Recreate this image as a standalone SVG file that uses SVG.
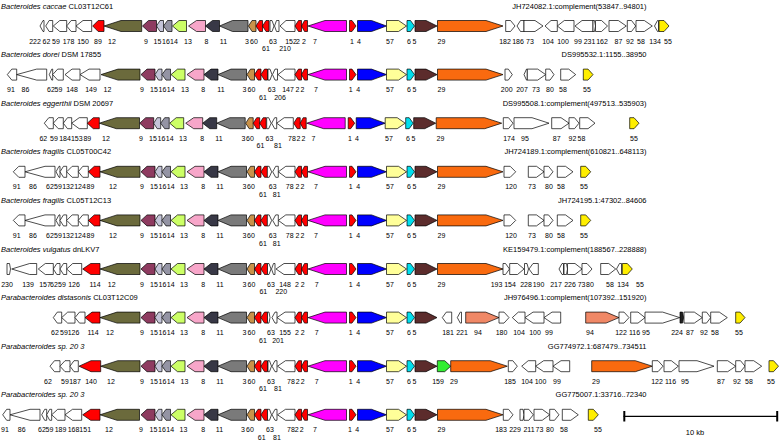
<svg xmlns="http://www.w3.org/2000/svg" width="779" height="442" viewBox="0 0 779 442">
<style>
.a path{stroke:#000;stroke-width:0.7;stroke-linejoin:miter}
text{font-family:"Liberation Sans",Arial,Helvetica,sans-serif;fill:#000}
.l text{font-size:7px;text-anchor:middle}
.t{font-size:7.5px}
.acc{font-size:7.5px;text-anchor:end}
.w{fill:#fff}.ol{fill:#6b6a3c}.mr{fill:#8e3b60}.lv{fill:#c4c4d8}.gy{fill:#9494a4}.gr{fill:#ccff66}.pk{fill:#f7a6c9}.dk{fill:#383846}.g11{fill:#7a7a7a}.tn{fill:#c9924a}.rd{fill:#ff0000}.mg{fill:#ff00ff}.bl{fill:#0000ff}.ly{fill:#ffff99}.cy{fill:#00dfee}.br{fill:#5c2c2c}.or{fill:#f96a0f}.ye{fill:#ffee00}.sa{fill:#f08866}.gn{fill:#33ee33}.bk{fill:#222}
</style>

<g id="row1" transform="translate(0 26)">
<text class="t" x="1" y="-17.5"><tspan font-style="italic">Bacteroides caccae</tspan> CL03T12C61</text>
<text class="acc" x="646.5" y="-17.5">JH724082.1:complement(53847..94801)</text>
<g class="a">
<path class="w" d="M44 -5.5H43L40 0L43 5.5H44Z"/>
<path class="w" d="M52.7 -5.5H49.2L45.7 0L49.2 5.5H52.7Z"/>
<path class="w" d="M66.7 -5.5H59.8L53.3 0L59.8 5.5H66.7Z"/>
<path class="w" d="M76 -5.5H71.2L66.7 0L71.2 5.5H76Z"/>
<path class="w" d="M91.7 -5.5H83L76 0L83 5.5H91.7Z"/>
<path class="rd" d="M104 -5.5H98.2L92.7 0L98.2 5.5H104Z"/>
<path class="ol" d="M141.7 -5.5H121L104 0L121 5.5H141.7Z"/>
<g transform="translate(1.5 0)">
<path class="mr" d="M155 -5.5H147L141 0L147 5.5H155Z"/>
<path class="lv" d="M162 -5.5H158.5L155 0L158.5 5.5H162Z"/>
<path class="gy" d="M170.5 -5.5H166L162 0L166 5.5H170.5Z"/>
<path class="gr" d="M185 -5.5H177.5L171 0L177.5 5.5H185Z"/>
<path class="pk" d="M204 -5.5H195L187 0L195 5.5H204Z"/>
<path class="dk" d="M218 -5.5H211L204 0L211 5.5H218Z"/>
<path class="g11" d="M246.5 -5.5H231L218 0L231 5.5H246.5Z"/>
<path class="tn" d="M254.5 -5.5H250.5L247 0L250.5 5.5H254.5Z"/>
<path class="rd" d="M261 -5.5H258L254.5 0L258 5.5H261Z"/>
<path class="rd" d="M267.5 -5.5H264.5L261 0L264.5 5.5H267.5Z"/>
</g>
<path class="w" d="M270 -5.5H272L274 0L272 5.5H270Z"/>
<path class="w" d="M279 -5.5H276.5L274.5 0L276.5 5.5H279Z"/>
<path class="w" d="M295 -5.5H286L280 0L286 5.5H295Z"/>
<path class="rd" d="M301.5 -5.5H298.5L295 0L298.5 5.5H301.5Z"/>
<path class="rd" d="M307.5 -5.5H304.5L301.5 0L304.5 5.5H307.5Z"/>
<path class="mg" d="M346.5 -5.5H325L308 0L325 5.5H346.5Z"/>
<path class="rd" d="M349.5 -5.5H352L356 0L352 5.5H349.5Z"/>
<path class="bl" d="M357.5 -5.5H371.5L386.5 0L371.5 5.5H357.5Z"/>
<path class="ly" d="M386.5 -5.5H398.5L406.5 0L398.5 5.5H386.5Z"/>
<path class="cy" d="M407 -5.5H410.5L414.5 0L410.5 5.5H407Z"/>
<path class="br" d="M415 -5.5H426L437 0L426 5.5H415Z"/>
<path class="or" d="M437.5 -5.5H486L503 0L486 5.5H437.5Z"/>
<path class="w" d="M505.7 -5.5H510.5L515 0L510.5 5.5H505.7Z"/>
<path class="w" d="M524 -5.5H520.5L517 0L520.5 5.5H524Z"/>
<path class="w" d="M524 -5.5H535L543 0L535 5.5H524Z"/>
<path class="w" d="M557.3 -5.5H551L545 0L551 5.5H557.3Z"/>
<path class="w" d="M574 -5.5H564.3L557.3 0L564.3 5.5H574Z"/>
<path class="w" d="M593 -5.5H582L575 0L582 5.5H593Z"/>
<path class="w" d="M593 -5.5H594.5L595.5 0L594.5 5.5H593Z"/>
<path class="w" d="M595.5 -5.5H601.5L607.5 0L601.5 5.5H595.5Z"/>
<path class="w" d="M609 -5.5H618.3L626.3 0L618.3 5.5H609Z"/>
<path class="w" d="M627.3 -5.5H631.5L635.7 0L631.5 5.5H627.3Z"/>
<path class="w" d="M636 -5.5H644.3L652.3 0L644.3 5.5H636Z"/>
<path class="w" d="M658.5 -5.5H657.5L654.5 0L657.5 5.5H658.5Z"/>
<path class="ye" d="M659 -5.5H664L669 0L664 5.5H659Z"/>
</g>
<g class="l">
<text x="35" y="17.5">222</text><text x="46.5" y="17.5">62</text><text x="56" y="17.5">59</text><text x="68.5" y="17.5">178</text><text x="83" y="17.5">150</text><text x="98" y="17.5">89</text><text x="112" y="17.5">12</text>
<text x="146" y="17.5">9</text><text x="157.5" y="17.5">15</text><text x="166" y="17.5">16</text><text x="174" y="17.5">14</text><text x="188" y="17.5">13</text><text x="206.5" y="17.5">8</text><text x="223.5" y="17.5">11</text><text x="247" y="17.5">3</text><text x="254" y="17.5">60</text><text x="266" y="25.3">61</text>
<text x="273" y="17.5">63</text><text x="285" y="25.3">210</text><text x="291" y="17.5">152</text><text x="298" y="17.5">2</text><text x="304" y="17.5">2</text><text x="315" y="17.5">7</text><text x="352" y="17.5">1</text><text x="359" y="17.5">4</text>
<text x="390" y="17.5">57</text><text x="409" y="17.5">6</text><text x="414.5" y="17.5">5</text><text x="441.5" y="17.5">29</text>
<text x="505" y="17.5">182</text><text x="518" y="17.5">186</text><text x="530" y="17.5">73</text><text x="548" y="17.5">104</text><text x="563" y="17.5">100</text><text x="578" y="17.5">99</text><text x="589.5" y="17.5">231</text><text x="602" y="17.5">162</text><text x="618.5" y="17.5">87</text><text x="630" y="17.5">92</text><text x="641" y="17.5">58</text><text x="655" y="17.5">134</text><text x="668" y="17.5">55</text>
</g>
</g>

<g id="row2" transform="translate(0 74.6)">
<text class="t" x="1" y="-17.5"><tspan font-style="italic">Bacteroides dorei</tspan> DSM 17855</text>
<text class="acc" x="646.5" y="-17.5">DS995532.1:1155..38950</text>
<g class="a">
<path class="w" d="M16.7 -5.5H11.8L7.3 0L11.8 5.5H16.7Z"/>
<path class="w" d="M46.7 -5.5H36.7L16.7 0L36.7 5.5H46.7Z"/>
<path class="w" d="M52.7 -5.5H51.8L49.3 0L51.8 5.5H52.7Z"/>
<path class="w" d="M63.3 -5.5H57.7L52.7 0L57.7 5.5H63.3Z"/>
<path class="w" d="M80 -5.5H72L65 0L72 5.5H80Z"/>
<path class="w" d="M100 -5.5H89L80 0L89 5.5H100Z"/>
<path class="ol" d="M140 -5.5H118L101 0L118 5.5H140Z"/>
<path class="mr" d="M155 -5.5H147L141 0L147 5.5H155Z"/>
<path class="lv" d="M162 -5.5H158.5L155 0L158.5 5.5H162Z"/>
<path class="gy" d="M170.5 -5.5H166L162 0L166 5.5H170.5Z"/>
<path class="gr" d="M185 -5.5H177.5L171 0L177.5 5.5H185Z"/>
<path class="pk" d="M204 -5.5H195L187 0L195 5.5H204Z"/>
<path class="dk" d="M218 -5.5H211L204 0L211 5.5H218Z"/>
<path class="g11" d="M246.5 -5.5H231L218 0L231 5.5H246.5Z"/>
<path class="tn" d="M254.5 -5.5H250.5L247 0L250.5 5.5H254.5Z"/>
<path class="rd" d="M261 -5.5H258L254.5 0L258 5.5H261Z"/>
<path class="rd" d="M267.5 -5.5H264.5L261 0L264.5 5.5H267.5Z"/>
<path class="w" d="M268 -5.5H270L272 0L270 5.5H268Z"/>
<path class="w" d="M277.5 -5.5H275L272.5 0L275 5.5H277.5Z"/>
<path class="w" d="M295 -5.5H285L278 0L285 5.5H295Z"/>
<path class="rd" d="M301.5 -5.5H298.5L295 0L298.5 5.5H301.5Z"/>
<path class="rd" d="M307.5 -5.5H304.5L301.5 0L304.5 5.5H307.5Z"/>
<path class="mg" d="M346.5 -5.5H325L308 0L325 5.5H346.5Z"/>
<path class="rd" d="M349.5 -5.5H352L356 0L352 5.5H349.5Z"/>
<path class="bl" d="M357.5 -5.5H371.5L386.5 0L371.5 5.5H357.5Z"/>
<path class="ly" d="M386.5 -5.5H398.5L406.5 0L398.5 5.5H386.5Z"/>
<path class="cy" d="M407 -5.5H410.5L414.5 0L410.5 5.5H407Z"/>
<path class="br" d="M415 -5.5H426L437 0L426 5.5H415Z"/>
<path class="or" d="M437.5 -5.5H486L503 0L486 5.5H437.5Z"/>
<path class="w" d="M505 -5.5H508.3L512.3 0L508.3 5.5H505Z"/>
<path class="w" d="M527.3 -5.5H526.5L524 0L526.5 5.5H527.3Z"/>
<path class="w" d="M527.3 -5.5H537.7L545.7 0L537.7 5.5H527.3Z"/>
<path class="w" d="M545.7 -5.5H550L554 0L550 5.5H545.7Z"/>
<path class="w" d="M560.7 -5.5H568.7L575.7 0L568.7 5.5H560.7Z"/>
<path class="ye" d="M583.3 -5.5H588L593 0L588 5.5H583.3Z"/>
</g>
<g class="l">
<text x="11" y="17.5">91</text><text x="25.5" y="17.5">86</text><text x="51" y="17.5">62</text><text x="58.5" y="17.5">59</text><text x="72" y="17.5">148</text><text x="91" y="17.5">149</text><text x="107.5" y="17.5">12</text>
<text x="142" y="17.5">9</text><text x="154" y="17.5">15</text><text x="162.5" y="17.5">16</text><text x="170.7" y="17.5">14</text><text x="185" y="17.5">13</text><text x="203.3" y="17.5">8</text><text x="221" y="17.5">11</text><text x="244.5" y="17.5">3</text><text x="251.5" y="17.5">60</text><text x="263" y="25.3">61</text>
<text x="271.7" y="17.5">63</text><text x="280" y="25.3">206</text><text x="288" y="17.5">147</text><text x="297.5" y="17.5">2</text><text x="302.5" y="17.5">2</text><text x="316" y="17.5">7</text><text x="350.7" y="17.5">1</text><text x="358.3" y="17.5">4</text>
<text x="390" y="17.5">57</text><text x="409" y="17.5">6</text><text x="414.5" y="17.5">5</text><text x="441.5" y="17.5">29</text>
<text x="506.7" y="17.5">200</text><text x="522" y="17.5">207</text><text x="536" y="17.5">73</text><text x="550" y="17.5">80</text><text x="563" y="17.5">58</text><text x="587" y="17.5">55</text>
</g>
</g>

<g id="row3" transform="translate(0 123.2)">
<text class="t" x="1" y="-17.5"><tspan font-style="italic">Bacteroides eggerthii</tspan> DSM 20697</text>
<text class="acc" x="646.5" y="-17.5">DS995508.1:complement(497513..535903)</text>
<g class="a">
<path class="w" d="M53.3 -5.5H48.8L44.3 0L48.8 5.5H53.3Z"/>
<path class="w" d="M63.3 -5.5H58.3L53.3 0L58.3 5.5H63.3Z"/>
<path class="w" d="M71.7 -5.5H67.5L63.3 0L67.5 5.5H71.7Z"/>
<path class="w" d="M87.3 -5.5H79.2L71.7 0L79.2 5.5H87.3Z"/>
<path class="rd" d="M99.3 -5.5H93.3L87.3 0L93.3 5.5H99.3Z"/>
<path class="ol" d="M139.5 -5.5H116.3L99.3 0L116.3 5.5H139.5Z"/>
<g transform="translate(-1.3 0)">
<path class="mr" d="M155 -5.5H147L141 0L147 5.5H155Z"/>
<path class="lv" d="M162 -5.5H158.5L155 0L158.5 5.5H162Z"/>
<path class="gy" d="M170.5 -5.5H166L162 0L166 5.5H170.5Z"/>
<path class="gr" d="M185 -5.5H177.5L171 0L177.5 5.5H185Z"/>
<path class="pk" d="M204 -5.5H195L187 0L195 5.5H204Z"/>
<path class="dk" d="M218 -5.5H211L204 0L211 5.5H218Z"/>
<path class="g11" d="M246.5 -5.5H231L218 0L231 5.5H246.5Z"/>
<path class="tn" d="M254.5 -5.5H250.5L247 0L250.5 5.5H254.5Z"/>
<path class="rd" d="M261 -5.5H258L254.5 0L258 5.5H261Z"/>
<path class="rd" d="M267.5 -5.5H264.5L261 0L264.5 5.5H267.5Z"/>
<path class="rd" d="M301.5 -5.5H298.5L295 0L298.5 5.5H301.5Z"/>
<path class="rd" d="M307.5 -5.5H304.5L301.5 0L304.5 5.5H307.5Z"/>
<path class="mg" d="M346.5 -5.5H325L308 0L325 5.5H346.5Z"/>
<path class="rd" d="M349.5 -5.5H352L356 0L352 5.5H349.5Z"/>
<path class="bl" d="M357.5 -5.5H371.5L386.5 0L371.5 5.5H357.5Z"/>
<path class="ly" d="M386.5 -5.5H398.5L406.5 0L398.5 5.5H386.5Z"/>
<path class="cy" d="M407 -5.5H410.5L414.5 0L410.5 5.5H407Z"/>
<path class="br" d="M415 -5.5H426L437 0L426 5.5H415Z"/>
<path class="or" d="M437.5 -5.5H486L503 0L486 5.5H437.5Z"/>
</g>
<path class="w" d="M266.7 -5.5H268.7L271.2 0L268.7 5.5H266.7Z"/>
<path class="w" d="M276.7 -5.5H274.7L271.7 0L274.7 5.5H276.7Z"/>
<path class="w" d="M293.3 -5.5H284.2L276.7 0L284.2 5.5H293.3Z"/>
<path class="w" d="M503.3 -5.5H508.5L513 0L508.5 5.5H503.3Z"/>
<path class="w" d="M514 -5.5H532L549 0L532 5.5H514Z"/>
<path class="w" d="M551.7 -5.5H561L569 0L561 5.5H551.7Z"/>
<path class="w" d="M569 -5.5H574.5L579 0L574.5 5.5H569Z"/>
<path class="w" d="M579.7 -5.5H588L595 0L588 5.5H579.7Z"/>
<path class="ye" d="M629.7 -5.5H634L639 0L634 5.5H629.7Z"/>
</g>
<g class="l">
<text x="43.3" y="17.5">62</text><text x="54" y="17.5">59</text><text x="65" y="17.5">184</text><text x="76.8" y="17.5">153</text><text x="87.3" y="17.5">89</text><text x="106" y="17.5">12</text>
<g transform="translate(-1 0)">
<text x="142" y="17.5">9</text><text x="154" y="17.5">15</text><text x="162.5" y="17.5">16</text><text x="170.7" y="17.5">14</text><text x="184" y="17.5">13</text><text x="203.3" y="17.5">8</text><text x="220" y="17.5">11</text><text x="244.5" y="17.5">3</text><text x="251" y="17.5">60</text><text x="261.5" y="25.3">61</text>
<text x="299.5" y="17.5">2</text><text x="304.5" y="17.5">2</text><text x="314.5" y="17.5">7</text><text x="351" y="17.5">1</text><text x="358" y="17.5">4</text>
<text x="390" y="17.5">57</text><text x="409" y="17.5">6</text><text x="414.5" y="17.5">5</text><text x="441.5" y="17.5">29</text>
</g>
<text x="269.5" y="17.5">63</text><text x="278" y="25.3">81</text><text x="292" y="17.5">78</text>
<text x="509" y="17.5">174</text><text x="525" y="17.5">95</text><text x="556.7" y="17.5">87</text><text x="572.5" y="17.5">92</text><text x="581.5" y="17.5">58</text><text x="634" y="17.5">55</text>
</g>
</g>

<g id="row4" transform="translate(0 171.8)">
<text class="t" x="1" y="-17.5"><tspan font-style="italic">Bacteroides fragilis</tspan> CL05T00C42</text>
<text class="acc" x="646.5" y="-17.5">JH724189.1:complement(610821..648113)</text>
<g class="a">
<path class="w" d="M25 -5.5H18.8L13.3 0L18.8 5.5H25Z"/>
<path class="w" d="M55 -5.5H45L25 0L45 5.5H55Z"/>
<path class="w" d="M60 -5.5H59L56 0L59 5.5H60Z"/>
<path class="w" d="M66.7 -5.5H63.5L60 0L63.5 5.5H66.7Z"/>
<path class="w" d="M78.3 -5.5H72.2L66.7 0L72.2 5.5H78.3Z"/>
<path class="w" d="M88.3 -5.5H82.8L78.3 0L82.8 5.5H88.3Z"/>
<path class="rd" d="M100 -5.5H94.3L88.3 0L94.3 5.5H100Z"/>
<path class="ol" d="M140 -5.5H117L100 0L117 5.5H140Z"/>
<path class="mr" d="M155 -5.5H147L141 0L147 5.5H155Z"/>
<path class="lv" d="M162 -5.5H158.5L155 0L158.5 5.5H162Z"/>
<path class="gy" d="M170.5 -5.5H166L162 0L166 5.5H170.5Z"/>
<path class="gr" d="M185 -5.5H177.5L171 0L177.5 5.5H185Z"/>
<path class="pk" d="M204 -5.5H195L187 0L195 5.5H204Z"/>
<path class="dk" d="M218 -5.5H211L204 0L211 5.5H218Z"/>
<path class="g11" d="M246.5 -5.5H231L218 0L231 5.5H246.5Z"/>
<path class="tn" d="M254.5 -5.5H250.5L247 0L250.5 5.5H254.5Z"/>
<path class="rd" d="M261 -5.5H258L254.5 0L258 5.5H261Z"/>
<path class="rd" d="M267.5 -5.5H264.5L261 0L264.5 5.5H267.5Z"/>
<path class="w" d="M267.3 -5.5H269.2L271.7 0L269.2 5.5H267.3Z"/>
<path class="w" d="M278.3 -5.5H275.7L272.7 0L275.7 5.5H278.3Z"/>
<path class="w" d="M295 -5.5H285.8L278.3 0L285.8 5.5H295Z"/>
<path class="rd" d="M301.5 -5.5H298.5L295 0L298.5 5.5H301.5Z"/>
<path class="rd" d="M307.5 -5.5H304.5L301.5 0L304.5 5.5H307.5Z"/>
<path class="mg" d="M346.5 -5.5H325L308 0L325 5.5H346.5Z"/>
<path class="rd" d="M349.5 -5.5H352L356 0L352 5.5H349.5Z"/>
<path class="bl" d="M357.5 -5.5H371.5L386.5 0L371.5 5.5H357.5Z"/>
<path class="ly" d="M386.5 -5.5H398.5L406.5 0L398.5 5.5H386.5Z"/>
<path class="cy" d="M407 -5.5H410.5L414.5 0L410.5 5.5H407Z"/>
<path class="br" d="M415 -5.5H426L437 0L426 5.5H415Z"/>
<path class="or" d="M437.5 -5.5H486L503 0L486 5.5H437.5Z"/>
<path class="w" d="M504 -5.5H510.2L515.7 0L510.2 5.5H504Z"/>
<path class="w" d="M528.3 -5.5H536.5L544 0L536.5 5.5H528.3Z"/>
<path class="w" d="M544 -5.5H548.5L553 0L548.5 5.5H544Z"/>
<path class="w" d="M557.3 -5.5H565.5L573 0L565.5 5.5H557.3Z"/>
<path class="ye" d="M580.7 -5.5H585.7L590.7 0L585.7 5.5H580.7Z"/>
</g>
<g class="l">
<text x="16.7" y="17.5">91</text><text x="33" y="17.5">86</text><text x="50" y="17.5">62</text><text x="58" y="17.5">59</text><text x="68" y="17.5">132</text><text x="80" y="17.5">124</text><text x="90.5" y="17.5">89</text><text x="113" y="17.5">12</text>
<text x="142" y="17.5">9</text><text x="154" y="17.5">15</text><text x="162.5" y="17.5">16</text><text x="170.7" y="17.5">14</text><text x="184" y="17.5">13</text><text x="203.3" y="17.5">8</text><text x="220" y="17.5">11</text><text x="244.5" y="17.5">3</text><text x="251" y="17.5">60</text><text x="263" y="25.3">61</text>
<text x="272.7" y="17.5">63</text><text x="276.7" y="25.3">81</text><text x="289.7" y="17.5">78</text><text x="297.5" y="17.5">2</text><text x="302.5" y="17.5">2</text><text x="316" y="17.5">7</text><text x="350.7" y="17.5">1</text><text x="358.3" y="17.5">4</text>
<text x="390" y="17.5">57</text><text x="409" y="17.5">6</text><text x="414.5" y="17.5">5</text><text x="441.5" y="17.5">29</text>
<text x="511" y="17.5">120</text><text x="532" y="17.5">73</text><text x="549" y="17.5">80</text><text x="561" y="17.5">58</text><text x="584" y="17.5">55</text>
</g>
</g>

<g id="row5" transform="translate(0 220.4)">
<text class="t" x="1" y="-17.5"><tspan font-style="italic">Bacteroides fragilis</tspan> CL05T12C13</text>
<text class="acc" x="646.5" y="-17.5">JH724195.1:47302..84606</text>
<g class="a">
<path class="w" d="M25 -5.5H18.8L13.3 0L18.8 5.5H25Z"/>
<path class="w" d="M55 -5.5H45L25 0L45 5.5H55Z"/>
<path class="w" d="M60 -5.5H59L56 0L59 5.5H60Z"/>
<path class="w" d="M66.7 -5.5H63.5L60 0L63.5 5.5H66.7Z"/>
<path class="w" d="M78.3 -5.5H72.2L66.7 0L72.2 5.5H78.3Z"/>
<path class="w" d="M88.3 -5.5H82.8L78.3 0L82.8 5.5H88.3Z"/>
<path class="rd" d="M100 -5.5H94.3L88.3 0L94.3 5.5H100Z"/>
<path class="ol" d="M140 -5.5H117L100 0L117 5.5H140Z"/>
<path class="mr" d="M155 -5.5H147L141 0L147 5.5H155Z"/>
<path class="lv" d="M162 -5.5H158.5L155 0L158.5 5.5H162Z"/>
<path class="gy" d="M170.5 -5.5H166L162 0L166 5.5H170.5Z"/>
<path class="gr" d="M185 -5.5H177.5L171 0L177.5 5.5H185Z"/>
<path class="pk" d="M204 -5.5H195L187 0L195 5.5H204Z"/>
<path class="dk" d="M218 -5.5H211L204 0L211 5.5H218Z"/>
<path class="g11" d="M246.5 -5.5H231L218 0L231 5.5H246.5Z"/>
<path class="tn" d="M254.5 -5.5H250.5L247 0L250.5 5.5H254.5Z"/>
<path class="rd" d="M261 -5.5H258L254.5 0L258 5.5H261Z"/>
<path class="rd" d="M267.5 -5.5H264.5L261 0L264.5 5.5H267.5Z"/>
<path class="w" d="M267.3 -5.5H269.2L271.7 0L269.2 5.5H267.3Z"/>
<path class="w" d="M278.3 -5.5H275.7L272.7 0L275.7 5.5H278.3Z"/>
<path class="w" d="M295 -5.5H285.8L278.3 0L285.8 5.5H295Z"/>
<path class="rd" d="M301.5 -5.5H298.5L295 0L298.5 5.5H301.5Z"/>
<path class="rd" d="M307.5 -5.5H304.5L301.5 0L304.5 5.5H307.5Z"/>
<path class="mg" d="M346.5 -5.5H325L308 0L325 5.5H346.5Z"/>
<path class="rd" d="M349.5 -5.5H352L356 0L352 5.5H349.5Z"/>
<path class="bl" d="M357.5 -5.5H371.5L386.5 0L371.5 5.5H357.5Z"/>
<path class="ly" d="M386.5 -5.5H398.5L406.5 0L398.5 5.5H386.5Z"/>
<path class="cy" d="M407 -5.5H410.5L414.5 0L410.5 5.5H407Z"/>
<path class="br" d="M415 -5.5H426L437 0L426 5.5H415Z"/>
<path class="or" d="M437.5 -5.5H486L503 0L486 5.5H437.5Z"/>
<path class="w" d="M504 -5.5H510.2L515.7 0L510.2 5.5H504Z"/>
<path class="w" d="M528.3 -5.5H536.5L544 0L536.5 5.5H528.3Z"/>
<path class="w" d="M544 -5.5H548.5L553 0L548.5 5.5H544Z"/>
<path class="w" d="M557.3 -5.5H565.5L573 0L565.5 5.5H557.3Z"/>
<path class="ye" d="M580.7 -5.5H585.7L590.7 0L585.7 5.5H580.7Z"/>
</g>
<g class="l">
<text x="16.7" y="17.5">91</text><text x="33" y="17.5">86</text><text x="50" y="17.5">62</text><text x="58" y="17.5">59</text><text x="68" y="17.5">132</text><text x="80" y="17.5">124</text><text x="90.5" y="17.5">89</text><text x="113" y="17.5">12</text>
<text x="142" y="17.5">9</text><text x="154" y="17.5">15</text><text x="162.5" y="17.5">16</text><text x="170.7" y="17.5">14</text><text x="184" y="17.5">13</text><text x="203.3" y="17.5">8</text><text x="220" y="17.5">11</text><text x="244.5" y="17.5">3</text><text x="251" y="17.5">60</text><text x="263" y="25.3">61</text>
<text x="272.7" y="17.5">63</text><text x="276.7" y="25.3">81</text><text x="289.7" y="17.5">78</text><text x="297.5" y="17.5">2</text><text x="302.5" y="17.5">2</text><text x="316" y="17.5">7</text><text x="350.7" y="17.5">1</text><text x="358.3" y="17.5">4</text>
<text x="390" y="17.5">57</text><text x="409" y="17.5">6</text><text x="414.5" y="17.5">5</text><text x="441.5" y="17.5">29</text>
<text x="511" y="17.5">120</text><text x="532" y="17.5">73</text><text x="549" y="17.5">80</text><text x="561" y="17.5">58</text><text x="584" y="17.5">55</text>
</g>
</g>

<g id="row6" transform="translate(0 269)">
<text class="t" x="1" y="-17.5"><tspan font-style="italic">Bacteroides vulgatus</tspan> dnLKV7</text>
<text class="acc" x="646.5" y="-17.5">KE159479.1:complement(188567..228888)</text>
<g class="a">
<path class="w" d="M7 -5.5H9.5L10.5 0L9.5 5.5H7Z"/>
<path class="w" d="M36.7 -5.5H29.7L11.7 0L29.7 5.5H36.7Z"/>
<path class="w" d="M53.3 -5.5H45.3L38.3 0L45.3 5.5H53.3Z"/>
<path class="w" d="M60 -5.5H56.8L53.3 0L56.8 5.5H60Z"/>
<path class="w" d="M66.7 -5.5H63.5L60 0L63.5 5.5H66.7Z"/>
<path class="w" d="M81.7 -5.5H72.7L66.7 0L72.7 5.5H81.7Z"/>
<path class="rd" d="M100 -5.5H90.7L82.7 0L90.7 5.5H100Z"/>
<path class="ol" d="M140 -5.5H117L100 0L117 5.5H140Z"/>
<path class="mr" d="M155 -5.5H147L141 0L147 5.5H155Z"/>
<path class="lv" d="M162 -5.5H158.5L155 0L158.5 5.5H162Z"/>
<path class="gy" d="M170.5 -5.5H166L162 0L166 5.5H170.5Z"/>
<path class="gr" d="M185 -5.5H177.5L171 0L177.5 5.5H185Z"/>
<path class="pk" d="M204 -5.5H195L187 0L195 5.5H204Z"/>
<path class="dk" d="M218 -5.5H211L204 0L211 5.5H218Z"/>
<path class="g11" d="M246.5 -5.5H231L218 0L231 5.5H246.5Z"/>
<path class="tn" d="M254.5 -5.5H250.5L247 0L250.5 5.5H254.5Z"/>
<path class="rd" d="M261 -5.5H258L254.5 0L258 5.5H261Z"/>
<path class="rd" d="M267.5 -5.5H264.5L261 0L264.5 5.5H267.5Z"/>
<path class="w" d="M267.5 -5.5H269L271 0L269 5.5H267.5Z"/>
<path class="w" d="M275 -5.5H273.5L271.5 0L273.5 5.5H275Z"/>
<path class="w" d="M295 -5.5H284L276 0L284 5.5H295Z"/>
<path class="rd" d="M301.5 -5.5H298.5L295 0L298.5 5.5H301.5Z"/>
<path class="rd" d="M307.5 -5.5H304.5L301.5 0L304.5 5.5H307.5Z"/>
<path class="mg" d="M346.5 -5.5H325L308 0L325 5.5H346.5Z"/>
<path class="rd" d="M349.5 -5.5H352L356 0L352 5.5H349.5Z"/>
<path class="bl" d="M357.5 -5.5H371.5L386.5 0L371.5 5.5H357.5Z"/>
<path class="ly" d="M386.5 -5.5H398.5L406.5 0L398.5 5.5H386.5Z"/>
<path class="cy" d="M407 -5.5H410.5L414.5 0L410.5 5.5H407Z"/>
<path class="br" d="M415 -5.5H426L437 0L426 5.5H415Z"/>
<path class="or" d="M437.5 -5.5H486L503 0L486 5.5H437.5Z"/>
<path class="w" d="M503 -5.5H505.5L509.5 0L505.5 5.5H503Z"/>
<path class="w" d="M509.7 -5.5H517.5L524 0L517.5 5.5H509.7Z"/>
<path class="w" d="M524.5 -5.5H527L528.5 0L527 5.5H524.5Z"/>
<path class="w" d="M538.3 -5.5H533L529 0L533 5.5H538.3Z"/>
<path class="w" d="M563.5 -5.5H562L559 0L562 5.5H563.5Z"/>
<path class="w" d="M564 -5.5H566.5L567.5 0L566.5 5.5H564Z"/>
<path class="w" d="M567.5 -5.5H575L582 0L575 5.5H567.5Z"/>
<path class="w" d="M582 -5.5H587L592 0L587 5.5H582Z"/>
<path class="w" d="M600.7 -5.5H608.7L615.7 0L608.7 5.5H600.7Z"/>
<path class="w" d="M621.5 -5.5H619.5L616.5 0L619.5 5.5H621.5Z"/>
<path class="ye" d="M622.3 -5.5H627.3L632.3 0L627.3 5.5H622.3Z"/>
</g>
<g class="l">
<text x="7" y="17.5">230</text><text x="28" y="17.5">139</text><text x="45" y="17.5">157</text><text x="54" y="17.5">62</text><text x="62" y="17.5">59</text><text x="74" y="17.5">126</text><text x="95" y="17.5">114</text><text x="111.7" y="17.5">12</text>
<text x="142" y="17.5">9</text><text x="154" y="17.5">15</text><text x="162.5" y="17.5">16</text><text x="170.7" y="17.5">14</text><text x="184" y="17.5">13</text><text x="203.3" y="17.5">8</text><text x="220" y="17.5">11</text><text x="244.5" y="17.5">3</text><text x="251.5" y="17.5">60</text><text x="263.3" y="25.3">61</text>
<text x="271" y="17.5">63</text><text x="281.3" y="25.3">220</text><text x="285" y="17.5">148</text><text x="297" y="17.5">2</text><text x="302.7" y="17.5">2</text><text x="316.7" y="17.5">7</text><text x="350.7" y="17.5">1</text><text x="358.3" y="17.5">4</text>
<text x="390" y="17.5">57</text><text x="409" y="17.5">6</text><text x="414.5" y="17.5">5</text><text x="441.5" y="17.5">29</text>
<text x="496.5" y="17.5">193</text><text x="510" y="17.5">154</text><text x="526" y="17.5">228</text><text x="538.5" y="17.5">190</text><text x="556" y="17.5">217</text><text x="570" y="17.5">226</text><text x="581.6" y="17.5">73</text><text x="590" y="17.5">80</text><text x="610" y="17.5">58</text><text x="623" y="17.5">134</text><text x="640" y="17.5">55</text>
</g>
</g>

<g id="row7" transform="translate(0 317.6)">
<text class="t" x="1" y="-17.5"><tspan font-style="italic">Parabacteroides distasonis</tspan> CL03T12C09</text>
<text class="acc" x="646.5" y="-17.5">JH976496.1:complement(107392..151920)</text>
<g class="a">
<path class="w" d="M61.7 -5.5H57.3L53.3 0L57.3 5.5H61.7Z"/>
<path class="w" d="M75 -5.5H67.7L61.7 0L67.7 5.5H75Z"/>
<path class="w" d="M85 -5.5H79.5L75 0L79.5 5.5H85Z"/>
<path class="rd" d="M100 -5.5H92L85 0L92 5.5H100Z"/>
<path class="ol" d="M140 -5.5H117L100 0L117 5.5H140Z"/>
<path class="mr" d="M155 -5.5H147L141 0L147 5.5H155Z"/>
<path class="lv" d="M162 -5.5H158.5L155 0L158.5 5.5H162Z"/>
<path class="gy" d="M170.5 -5.5H166L162 0L166 5.5H170.5Z"/>
<path class="gr" d="M185 -5.5H177.5L171 0L177.5 5.5H185Z"/>
<path class="pk" d="M204 -5.5H195L187 0L195 5.5H204Z"/>
<path class="dk" d="M218 -5.5H211L204 0L211 5.5H218Z"/>
<path class="g11" d="M246.5 -5.5H231L218 0L231 5.5H246.5Z"/>
<path class="tn" d="M254.5 -5.5H250.5L247 0L250.5 5.5H254.5Z"/>
<path class="rd" d="M261 -5.5H258L254.5 0L258 5.5H261Z"/>
<path class="rd" d="M267.5 -5.5H264.5L261 0L264.5 5.5H267.5Z"/>
<path class="w" d="M267.5 -5.5H269L270 0L269 5.5H267.5Z"/>
<path class="w" d="M277 -5.5H275L272 0L275 5.5H277Z"/>
<path class="w" d="M295 -5.5H285L277 0L285 5.5H295Z"/>
<path class="rd" d="M301.5 -5.5H298.5L295 0L298.5 5.5H301.5Z"/>
<path class="rd" d="M307.5 -5.5H304.5L301.5 0L304.5 5.5H307.5Z"/>
<path class="mg" d="M346.5 -5.5H325L308 0L325 5.5H346.5Z"/>
<path class="rd" d="M349.5 -5.5H352L356 0L352 5.5H349.5Z"/>
<path class="bl" d="M357.5 -5.5H371.5L386.5 0L371.5 5.5H357.5Z"/>
<path class="ly" d="M386.5 -5.5H398.5L406.5 0L398.5 5.5H386.5Z"/>
<path class="cy" d="M407 -5.5H410.5L414.5 0L410.5 5.5H407Z"/>
<path class="br" d="M415 -5.5H426L437 0L426 5.5H415Z"/>
<path class="w" d="M451.7 -5.5H446.3L442.3 0L446.3 5.5H451.7Z"/>
<path class="w" d="M461.5 -5.5H460.3L457.3 0L460.3 5.5H461.5Z"/>
<path class="sa" d="M465.7 -5.5H485.7L499 0L485.7 5.5H465.7Z"/>
<path class="w" d="M499 -5.5H504L509 0L504 5.5H499Z"/>
<path class="w" d="M525 -5.5H518.3L512.3 0L518.3 5.5H525Z"/>
<path class="w" d="M544 -5.5H533L525 0L533 5.5H544Z"/>
<path class="w" d="M560.7 -5.5H552L544 0L552 5.5H560.7Z"/>
<path class="sa" d="M585.7 -5.5H606L619 0L606 5.5H585.7Z"/>
<path class="w" d="M619 -5.5H624L629 0L624 5.5H619Z"/>
<path class="w" d="M630.7 -5.5H638L645 0L638 5.5H630.7Z"/>
<path class="w" d="M645 -5.5H662.7L679.7 0L662.7 5.5H645Z"/>
<path class="bk" d="M680 -5.5H682.5L683.5 0L682.5 5.5H680Z"/>
<path class="w" d="M684 -5.5H694.3L702.3 0L694.3 5.5H684Z"/>
<path class="w" d="M702.3 -5.5H706.5L710.7 0L706.5 5.5H702.3Z"/>
<path class="w" d="M710.7 -5.5H719.3L727.3 0L719.3 5.5H710.7Z"/>
<path class="ye" d="M735.7 -5.5H740L745 0L740 5.5H735.7Z"/>
</g>
<g class="l">
<text x="55" y="17.5">62</text><text x="64" y="17.5">59</text><text x="73.5" y="17.5">126</text><text x="93" y="17.5">114</text><text x="110" y="17.5">12</text>
<text x="142" y="17.5">9</text><text x="154" y="17.5">15</text><text x="162.5" y="17.5">16</text><text x="170.7" y="17.5">14</text><text x="184" y="17.5">13</text><text x="203.3" y="17.5">8</text><text x="220" y="17.5">11</text><text x="244.5" y="17.5">3</text><text x="251.5" y="17.5">60</text><text x="263" y="25.3">61</text>
<text x="271" y="17.5">63</text><text x="278" y="25.3">201</text><text x="285" y="17.5">155</text><text x="297" y="17.5">2</text><text x="302.7" y="17.5">2</text><text x="316.7" y="17.5">7</text><text x="350.7" y="17.5">1</text><text x="358.3" y="17.5">4</text>
<text x="390" y="17.5">57</text><text x="409" y="17.5">6</text><text x="414.5" y="17.5">5</text>
<text x="448" y="17.5">181</text><text x="462" y="17.5">221</text><text x="478" y="17.5">94</text><text x="501.5" y="17.5">180</text><text x="519" y="17.5">104</text><text x="535" y="17.5">100</text><text x="549" y="17.5">99</text><text x="590" y="17.5">94</text><text x="621" y="17.5">122</text><text x="634.5" y="17.5">116</text><text x="646" y="17.5">95</text><text x="677" y="17.5">224</text><text x="690" y="17.5">87</text><text x="704" y="17.5">92</text><text x="715" y="17.5">58</text><text x="739" y="17.5">55</text>
</g>
</g>

<g id="row8" transform="translate(0 366.2)">
<text class="t" x="1" y="-17.5" font-style="italic">Parabacteroides sp. 20 3</text>
<text class="acc" x="646.5" y="-17.5">GG774972.1:687479..734511</text>
<g class="a">
<path class="w" d="M60 -5.5H54.5L50 0L54.5 5.5H60Z"/>
<path class="w" d="M70 -5.5H65L60 0L65 5.5H70Z"/>
<path class="w" d="M78.3 -5.5H74L70 0L74 5.5H78.3Z"/>
<path class="rd" d="M100.7 -5.5H91L79 0L91 5.5H100.7Z"/>
<path class="ol" d="M140 -5.5H117.7L100.7 0L117.7 5.5H140Z"/>
<path class="mr" d="M155 -5.5H147L141 0L147 5.5H155Z"/>
<path class="lv" d="M162 -5.5H158.5L155 0L158.5 5.5H162Z"/>
<path class="gy" d="M170.5 -5.5H166L162 0L166 5.5H170.5Z"/>
<path class="gr" d="M185 -5.5H177.5L171 0L177.5 5.5H185Z"/>
<path class="pk" d="M204 -5.5H195L187 0L195 5.5H204Z"/>
<path class="dk" d="M218 -5.5H211L204 0L211 5.5H218Z"/>
<path class="g11" d="M246.5 -5.5H231L218 0L231 5.5H246.5Z"/>
<path class="tn" d="M254.5 -5.5H250.5L247 0L250.5 5.5H254.5Z"/>
<path class="rd" d="M261 -5.5H258L254.5 0L258 5.5H261Z"/>
<path class="rd" d="M267.5 -5.5H264.5L261 0L264.5 5.5H267.5Z"/>
<path class="w" d="M268 -5.5H269.5L271.5 0L269.5 5.5H268Z"/>
<path class="w" d="M277 -5.5H275L272 0L275 5.5H277Z"/>
<path class="w" d="M295 -5.5H285.5L277.5 0L285.5 5.5H295Z"/>
<path class="rd" d="M301.5 -5.5H298.5L295 0L298.5 5.5H301.5Z"/>
<path class="rd" d="M307.5 -5.5H304.5L301.5 0L304.5 5.5H307.5Z"/>
<path class="mg" d="M346.5 -5.5H325L308 0L325 5.5H346.5Z"/>
<path class="rd" d="M349.5 -5.5H352L356 0L352 5.5H349.5Z"/>
<path class="bl" d="M357.5 -5.5H371.5L386.5 0L371.5 5.5H357.5Z"/>
<path class="ly" d="M386.5 -5.5H398.5L406.5 0L398.5 5.5H386.5Z"/>
<path class="cy" d="M407 -5.5H410.5L414.5 0L410.5 5.5H407Z"/>
<path class="br" d="M415 -5.5H426L437 0L426 5.5H415Z"/>
<path class="gn" d="M437.3 -5.5H444.7L450.7 0L444.7 5.5H437.3Z"/>
<path class="or" d="M450.7 -5.5H490.3L507.3 0L490.3 5.5H450.7Z"/>
<path class="w" d="M508.3 -5.5H512.8L517.3 0L512.8 5.5H508.3Z"/>
<path class="w" d="M535.7 -5.5H528.2L521.7 0L528.2 5.5H535.7Z"/>
<path class="w" d="M553 -5.5H543.7L535.7 0L543.7 5.5H553Z"/>
<path class="w" d="M569.7 -5.5H561L553 0L561 5.5H569.7Z"/>
<path class="or" d="M591.7 -5.5H635.3L652.3 0L635.3 5.5H591.7Z"/>
<path class="w" d="M652.3 -5.5H658L663 0L658 5.5H652.3Z"/>
<path class="w" d="M664 -5.5H671.3L678.3 0L671.3 5.5H664Z"/>
<path class="w" d="M679 -5.5H697L714 0L697 5.5H679Z"/>
<path class="w" d="M717.3 -5.5H727.7L735.7 0L727.7 5.5H717.3Z"/>
<path class="w" d="M735.7 -5.5H740.5L745 0L740.5 5.5H735.7Z"/>
<path class="w" d="M745 -5.5H753.7L761.7 0L753.7 5.5H745Z"/>
<path class="ye" d="M769 -5.5H773.5L778.5 0L773.5 5.5H769Z"/>
</g>
<g class="l">
<text x="48" y="17.5">62</text><text x="65" y="17.5">59</text><text x="75" y="17.5">187</text><text x="91" y="17.5">140</text><text x="111" y="17.5">12</text>
<text x="142" y="17.5">9</text><text x="154" y="17.5">15</text><text x="162.5" y="17.5">16</text><text x="170.7" y="17.5">14</text><text x="184.5" y="17.5">13</text><text x="203.3" y="17.5">8</text><text x="220" y="17.5">11</text><text x="244.5" y="17.5">3</text><text x="251.5" y="17.5">60</text><text x="263" y="25.3">61</text>
<text x="271" y="17.5">63</text><text x="278" y="25.3">81</text><text x="291" y="17.5">78</text><text x="297.7" y="17.5">2</text><text x="302.7" y="17.5">2</text><text x="316.7" y="17.5">7</text><text x="350.7" y="17.5">1</text><text x="358.3" y="17.5">4</text>
<text x="390" y="17.5">57</text><text x="409" y="17.5">6</text><text x="414.5" y="17.5">5</text>
<text x="438" y="17.5">159</text><text x="454" y="17.5">29</text><text x="510" y="17.5">185</text><text x="527" y="17.5">104</text><text x="540.5" y="17.5">100</text><text x="557" y="17.5">99</text><text x="596" y="17.5">29</text><text x="657" y="17.5">122</text><text x="670.5" y="17.5">116</text><text x="685" y="17.5">95</text><text x="721" y="17.5">87</text><text x="737" y="17.5">92</text><text x="749" y="17.5">58</text><text x="771" y="17.5">55</text>
</g>
</g>

<g id="row9" transform="translate(0 414.8)">
<text class="t" x="1" y="-17.5" font-style="italic">Parabacteroides sp. 20 3</text>
<text class="acc" x="646.5" y="-17.5">GG775007.1:33716..72340</text>
<g class="a">
<path class="w" d="M10 -5.5H6.7L2.7 0L6.7 5.5H10Z"/>
<path class="w" d="M40 -5.5H30L10 0L30 5.5H40Z"/>
<path class="w" d="M46.7 -5.5H44.7L41.7 0L44.7 5.5H46.7Z"/>
<path class="w" d="M51.7 -5.5H49.7L46.7 0L49.7 5.5H51.7Z"/>
<path class="w" d="M65 -5.5H57.7L51.7 0L57.7 5.5H65Z"/>
<path class="w" d="M81.7 -5.5H72.5L65 0L72.5 5.5H81.7Z"/>
<path class="rd" d="M100 -5.5H90.7L82.7 0L90.7 5.5H100Z"/>
<path class="ol" d="M139.5 -5.5H117L100 0L117 5.5H139.5Z"/>
<path class="mr" d="M155 -5.5H147L141 0L147 5.5H155Z"/>
<path class="lv" d="M162 -5.5H158.5L155 0L158.5 5.5H162Z"/>
<path class="gy" d="M170.5 -5.5H166L162 0L166 5.5H170.5Z"/>
<path class="gr" d="M185 -5.5H177.5L171 0L177.5 5.5H185Z"/>
<path class="pk" d="M204 -5.5H195L187 0L195 5.5H204Z"/>
<path class="dk" d="M218 -5.5H211L204 0L211 5.5H218Z"/>
<path class="g11" d="M246.5 -5.5H231L218 0L231 5.5H246.5Z"/>
<path class="tn" d="M254.5 -5.5H250.5L247 0L250.5 5.5H254.5Z"/>
<path class="rd" d="M261 -5.5H258L254.5 0L258 5.5H261Z"/>
<path class="rd" d="M267.5 -5.5H264.5L261 0L264.5 5.5H267.5Z"/>
<path class="w" d="M267.5 -5.5H269.5L271.5 0L269.5 5.5H267.5Z"/>
<path class="w" d="M277 -5.5H275L272 0L275 5.5H277Z"/>
<path class="w" d="M295 -5.5H285.5L277.5 0L285.5 5.5H295Z"/>
<path class="rd" d="M301.5 -5.5H298.5L295 0L298.5 5.5H301.5Z"/>
<path class="rd" d="M307.5 -5.5H304.5L301.5 0L304.5 5.5H307.5Z"/>
<path class="mg" d="M346.5 -5.5H325L308 0L325 5.5H346.5Z"/>
<path class="rd" d="M349.5 -5.5H352L356 0L352 5.5H349.5Z"/>
<path class="bl" d="M357.5 -5.5H371.5L386.5 0L371.5 5.5H357.5Z"/>
<path class="ly" d="M386.5 -5.5H398.5L406.5 0L398.5 5.5H386.5Z"/>
<path class="cy" d="M407 -5.5H410.5L414.5 0L410.5 5.5H407Z"/>
<path class="br" d="M415 -5.5H426L437 0L426 5.5H415Z"/>
<path class="or" d="M437.5 -5.5H486L503 0L486 5.5H437.5Z"/>
<path class="w" d="M503.3 -5.5H508.5L513 0L508.5 5.5H503.3Z"/>
<path class="w" d="M520 -5.5H523L524 0L523 5.5H520Z"/>
<path class="w" d="M524 -5.5H528.8L533.3 0L528.8 5.5H524Z"/>
<path class="w" d="M534 -5.5H542.2L549.7 0L542.2 5.5H534Z"/>
<path class="w" d="M549.7 -5.5H554.5L559 0L554.5 5.5H549.7Z"/>
<path class="w" d="M562.3 -5.5H570.8L578.3 0L570.8 5.5H562.3Z"/>
<path class="ye" d="M588.3 -5.5H593.3L598.3 0L593.3 5.5H588.3Z"/>
</g>
<g class="l">
<text x="5" y="17.5">91</text><text x="21.7" y="17.5">86</text><text x="42" y="17.5">62</text><text x="49.5" y="17.5">59</text><text x="60.5" y="17.5">189</text><text x="73.5" y="17.5">168</text><text x="85.2" y="17.5">151</text><text x="109" y="17.5">12</text>
<text x="141" y="17.5">9</text><text x="153.5" y="17.5">15</text><text x="162" y="17.5">16</text><text x="170.2" y="17.5">14</text><text x="183.5" y="17.5">13</text><text x="203.3" y="17.5">8</text><text x="219.5" y="17.5">11</text><text x="243" y="17.5">3</text><text x="250" y="17.5">60</text><text x="261.7" y="25.3">61</text>
<text x="270" y="17.5">63</text><text x="277" y="25.3">81</text><text x="291" y="17.5">78</text><text x="296.7" y="17.5">2</text><text x="301.7" y="17.5">2</text><text x="315" y="17.5">7</text><text x="350" y="17.5">1</text><text x="357.3" y="17.5">4</text>
<text x="390" y="17.5">57</text><text x="409" y="17.5">6</text><text x="414.5" y="17.5">5</text><text x="441.5" y="17.5">29</text>
<text x="501" y="17.5">183</text><text x="515" y="17.5">229</text><text x="529" y="17.5">211</text><text x="539.5" y="17.5">73</text><text x="550" y="17.5">80</text><text x="564" y="17.5">58</text><text x="598" y="17.5">55</text>
</g>
</g>

<g id="scale">
<line x1="623.5" y1="416.3" x2="778" y2="416.3" stroke="#000" stroke-width="1.2"/>
<line x1="624.3" y1="411" x2="624.3" y2="421.5" stroke="#000" stroke-width="2"/>
<line x1="777.2" y1="411" x2="777.2" y2="421.5" stroke="#000" stroke-width="2"/>
<text x="695" y="434.5" font-size="7.5" text-anchor="middle">10 kb</text>
</g>
</svg>
